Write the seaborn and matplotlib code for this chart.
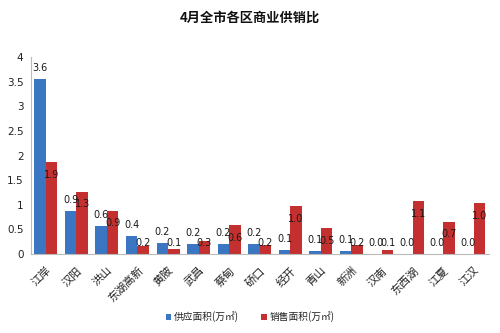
import matplotlib
matplotlib.use("Agg")
import matplotlib.pyplot as plt
import seaborn as sns
import pandas as pd
import numpy as np

districts = ["江岸", "汉阳", "洪山", "东湖高新", "黄陂", "武昌", "蔡甸", "硚口",
             "经开", "青山", "新洲", "汉南", "东西湖", "江夏", "江汉"]
supply = [3.56, 0.88, 0.57, 0.36, 0.22, 0.21, 0.21, 0.21,
          0.08, 0.06, 0.06, 0.0, 0.0, 0.0, 0.0]
sales = [1.86, 1.26, 0.88, 0.17, 0.11, 0.26, 0.58, 0.18,
         0.97, 0.52, 0.18, 0.08, 1.07, 0.66, 1.03]
series_names = ["供应面积(万㎡)", "销售面积(万㎡)"]
y_ticks = [0, 0.5, 1, 1.5, 2, 2.5, 3, 3.5, 4]
y_tick_labels = ["0", "0.5", "1", "1.5", "2", "2.5", "3", "3.5", "4"]

sns.set_theme(style="white")
plt.rcParams["font.family"] = ["Noto Sans CJK SC", "DejaVu Sans"]

df = pd.DataFrame({
    "区域": districts * 2,
    "面积": supply + sales,
    "类型": [series_names[0]] * len(districts) + [series_names[1]] * len(districts),
})

blue = "#3A76C2"
red = "#C4302F"

fig = plt.figure(figsize=(5.0, 3.33), dpi=100)
ax = fig.add_axes([0.061, 0.237, 0.917, 0.592])

sns.barplot(data=df, x="区域", y="面积", hue="类型", order=districts,
            hue_order=series_names, palette=[blue, red], width=0.75,
            gap=0, saturation=1, errorbar=None, ax=ax, legend=True,
            linewidth=0)

ax.set_xlim(-0.5, len(districts) - 0.5)
ax.set_ylim(0, 4)
ax.set_yticks(y_ticks)
ax.set_yticklabels(y_tick_labels, fontsize=7.5, color="#222222",
                   family=["DejaVu Sans"])
ax.set_xlabel("")
ax.set_ylabel("")

# category ticks sit between the groups, labels at group centres
ax.set_xticks(np.arange(len(districts)))
ax.set_xticklabels(districts, rotation=45, ha="right", va="top",
                   rotation_mode="anchor", fontsize=8, color="#222222")
ax.tick_params(axis="x", length=0, pad=8)
ax.set_xticks(np.arange(len(districts) + 1) - 0.5, minor=True)
ax.tick_params(axis="x", which="minor", length=3, color="#BBBBBB", width=0.8)
ax.tick_params(axis="y", length=3, color="#BBBBBB", width=0.8, pad=2)

for side in ["top", "right"]:
    ax.spines[side].set_visible(False)
for side in ["left", "bottom"]:
    ax.spines[side].set_color("#BBBBBB")
    ax.spines[side].set_linewidth(0.8)

# value labels: supply above the bar, sales just inside the top of the bar
for container, values, kind in zip(ax.containers, [supply, sales], ["up", "in"]):
    for bar, v in zip(container, values):
        cx = bar.get_x() + bar.get_width() / 2
        if kind == "up":
            y = v + 0.22
        else:
            y = max(v - 0.25, 0.23)
        ax.text(cx, y, f"{v:.1f}", ha="center", va="center", fontsize=7,
                color="#1a1a1a", family=["DejaVu Sans"])

leg = ax.legend(loc="center", ncol=2, frameon=False, fontsize=7,
                handlelength=0.6, handleheight=0.6, handletextpad=0.3,
                columnspacing=2.2)
leg.set_bbox_to_anchor((0.5, 0.048), transform=fig.transFigure)
for t in leg.get_texts():
    t.set_color("#222222")

fig.text(0.5, 0.948, "4月全市各区商业供销比", ha="center", va="center",
         fontsize=9.5, fontweight="bold", color="#111111")

fig.savefig("out.png", dpi=100, facecolor="white")
